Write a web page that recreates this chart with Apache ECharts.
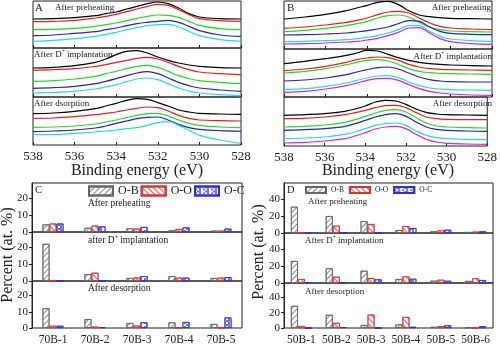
<!DOCTYPE html>
<html><head><meta charset="utf-8">
<script src="https://cdn.jsdelivr.net/npm/echarts@6/dist/echarts.min.js"></script>
<style>html,body{margin:0;padding:0;background:#fff}#c{width:500px;height:346px}</style>
</head><body><div id="c"></div>
<script>
// Binding energy sample points (eV)
const BE = [538,537,536,535,534.5,534,533.5,533,532.5,532,531.5,531,530.5,530,529,528];
// Panel A (70B samples), intensity a.u.
const A1_black = [87,88,91,97,103,108,117,125,133,138,133,120,103,93,88,87];
const A1_red   = [79,80,83,90,95,101,109,117,125,131,128,115,100,88,82,80];
const A1_green = [55,56,59,65,70,75,82,89,95,99,98,92,80,68,58,55];
const A1_blue  = [37,39,44,49,55,60,67,73,77,80,83,77,65,52,39,35];
const A1_cyan  = [20,23,28,35,41,47,55,61,67,70,71,63,50,37,25,20];
const A2_black = [87,89,94,104,114,127,137,139,132,120,110,102,96,92,88,87];
const A2_red   = [80,82,85,92,97,104,110,116,119,114,104,92,82,75,70,67];
const A2_green = [47,49,54,62,70,77,85,92,95,89,77,64,55,49,44,40];
const A2_blue  = [26,28,32,40,47,55,64,72,76,70,57,44,34,27,21,17];
const A2_cyan  = [12,14,17,24,30,37,46,54,57,52,40,27,18,12,7,4];
const A3_black = [94,96,101,109,117,125,134,139,137,127,117,105,99,95,93,92];
const A3_red   = [80,81,85,91,95,99,105,110,114,112,102,89,80,75,73,72];
const A3_green = [53,54,57,63,69,75,82,89,94,95,87,75,65,59,54,52];
const A3_blue  = [40,42,45,51,57,65,72,79,83,84,75,62,52,47,43,41];
const A3_cyan  = [32,31,35,39,42,45,49,52,59,67,70,59,44,29,15,5];
// Panel B (50B samples)
const B1_black   = [90,96,104,115,123,131,140,143,133,115,102,97,94,92,91,90];
const B1_red     = [62,66,72,80,86,93,103,111,113,108,93,78,68,63,60,58];
const B1_green   = [52,56,62,70,76,83,93,100,102,96,80,66,58,54,52,51];
const B1_blue    = [42,43,45,48,51,55,60,66,76,85,83,66,53,47,44,43];
const B1_cyan    = [22,23,25,28,31,35,40,48,58,70,70,53,38,30,25,23];
const B1_magenta = [15,16,18,21,23,27,32,40,50,63,64,48,31,22,16,14];
const B2_black   = [100,107,115,125,132,140,138,128,118,110,104,100,98,96,94,93];
const B2_red     = [79,84,92,104,112,117,120,118,110,98,90,85,83,82,81,80];
const B2_green   = [72,77,85,97,104,110,112,108,98,85,77,73,71,70,69,68];
const B2_blue    = [48,51,57,67,75,82,88,90,84,72,60,52,48,46,45,45];
const B2_cyan    = [22,25,32,42,50,57,63,64,58,45,34,27,24,22,21,20];
const B2_magenta = [14,17,24,34,42,50,55,56,50,37,25,17,12,9,6,5];
const B3_black   = [92,94,97,104,111,120,132,137,135,125,111,101,96,94,93,92];
const B3_red     = [82,83,87,94,100,107,115,121,122,115,100,87,82,80,79,79];
const B3_green   = [57,59,63,71,79,89,99,107,109,102,85,69,60,57,55,54];
const B3_blue    = [47,49,52,59,67,77,87,94,97,89,72,57,50,47,45,44];
const B3_cyan    = [22,24,27,35,42,52,62,67,69,62,45,32,25,22,20,19];
const B3_magenta = [9,11,15,22,30,40,51,57,59,52,35,20,12,8,6,5];
// Panel C (at. %)
const C_cats = ['70B-1','70B-2','70B-3','70B-4','70B-5'];
const C1_OB = [4.5,2.5,2.2,1,0.8], C1_OO = [5,3.8,2,1.8,0.8], C1_OC = [5,3.3,3,2.7,2];
const C2_OB = [22,4.1,1.8,2.9,1.8], C2_OO = [0,4.9,2.1,2,2], C2_OC = [0,0,2.9,2,2.3];
const C3_OB = [12.2,5.5,3.1,3.5,2.5], C3_OO = [1.4,0.8,1.5,0.2,0.2], C3_OC = [1.4,0.5,3.5,3.7,6.5];
// Panel D (at. %)
const D_cats = ['50B-1','50B-2','50B-3','50B-4','50B-5','50B-6'];
const D1_OB = [31,20,14,3.5,2,1.2], D1_OO = [0,8.6,10.6,8.2,3.1,1.6], D1_OC = [0,0,0,5.9,3.9,2];
const D2_OB = [26,17.3,14.5,4.7,2.7,2.4], D2_OO = [4.7,7.5,5.9,7.8,3.9,5.5], D2_OC = [0.8,1,4.3,5,2.7,3.5];
const D3_OB = [29,17.3,4,4.7,1.5,0.8], D3_OO = [2.7,6.7,17.6,14.5,2.3,0], D3_OC = [0,1.2,0,1.5,3.5,2.3];
const BE_ticks = [538,536,534,532,530,528];

const FONT = '"Liberation Serif","Times New Roman",serif';
const TXT = '#222';
const COLORS = ['#000000','#e8201c','#22dd22','#2424c8','#22dde6','#dd22dd'];

const chart = echarts.init(document.getElementById('c'), null, {renderer:'canvas'});

const grids = [
  {left:33, top:1, width:208, height:47},
  {left:33, top:48, width:208, height:49},
  {left:33, top:97, width:208, height:48},
  {left:284, top:1, width:208, height:48},
  {left:284, top:49, width:208, height:48},
  {left:284, top:97, width:208, height:49},
  {left:32, top:183, width:210, height:49},
  {left:32, top:232, width:210, height:49},
  {left:32, top:281, width:210, height:49},
  {left:284, top:183, width:209, height:50},
  {left:284, top:233, width:209, height:50},
  {left:284, top:283, width:209, height:50}
].map(g => Object.assign({show:true, borderColor:'#222', borderWidth:1, backgroundColor:'transparent'}, g));

const spec = [
  {max:141, curves:[A1_black,A1_red,A1_green,A1_blue,A1_cyan]},
  {max:147, curves:[A2_black,A2_red,A2_green,A2_blue,A2_cyan]},
  {max:144, curves:[A3_black,A3_red,A3_green,A3_blue,A3_cyan]},
  {max:144, curves:[B1_black,B1_red,B1_green,B1_blue,B1_cyan,B1_magenta]},
  {max:144, curves:[B2_black,B2_red,B2_green,B2_blue,B2_cyan,B2_magenta]},
  {max:147, curves:[B3_black,B3_red,B3_green,B3_blue,B3_cyan,B3_magenta]}
];

const xAxis = [], yAxis = [], series = [];
spec.forEach((s, i) => {
  const bottom = (i === 2 || i === 5);
  xAxis.push({type:'value', gridIndex:i, min:528, max:538, interval:2, inverse:true,
    axisLine:{show:false}, splitLine:{show:false},
    axisTick:{show:true, inside:true, length:3, lineStyle:{color:'#222'}},
    axisLabel:{show:bottom, fontFamily:FONT, fontSize:13, color:TXT, margin:5,
      formatter: v => BE_ticks.includes(v) ? String(v) : ''}});
  yAxis.push({type:'value', gridIndex:i, min:0, max:s.max, show:false});
  s.curves.forEach((c, k) => {
    series.push({type:'line', xAxisIndex:i, yAxisIndex:i, smooth:0.4, symbol:'none',
      silent:true, lineStyle:{width:1.2, color:COLORS[k]},
      data: BE.map((e, j) => [e, c[j]])});
  });
});

const decals = {
  'O-B': {symbol:'rect', symbolSize:1, dashArrayX:[1,0], dashArrayY:[0.8,2.4], rotation:-Math.PI/4, color:'#8a8a8a'},
  'O-O': {symbol:'rect', symbolSize:1, dashArrayX:[1,0], dashArrayY:[0.8,2.4], rotation:Math.PI/4, color:'#e85050'},
  'O-C': {symbol:'rect', symbolSize:1, dashArrayX:[[1.5,1.5],[0,1.5,1.5]], dashArrayY:[1.5,0], color:'#7676e4'}
};
const borders = {'O-B':'#666', 'O-O':'#e03030', 'O-C':'#3030d0'};

const bars = [
  {cats:C_cats, max:29, step:10, sets:[[C1_OB,C1_OO,C1_OC],[C2_OB,C2_OO,C2_OC],[C3_OB,C3_OO,C3_OC]]},
  {cats:D_cats, max:59, step:20, sets:[[D1_OB,D1_OO,D1_OC],[D2_OB,D2_OO,D2_OC],[D3_OB,D3_OO,D3_OC]]}
];
bars.forEach((p, pi) => {
  p.sets.forEach((set, si) => {
    const gi = 6 + pi*3 + si;
    const bottom = si === 2;
    xAxis.push({type:'category', gridIndex:gi, data:p.cats,
      axisLine:{show:false}, axisTick:{show:false},
      axisLabel:{show:bottom, interval:0, fontFamily:FONT, fontSize:11.5, color:TXT, margin:6}});
    yAxis.push({type:'value', gridIndex:gi, min:0, max:p.max, interval:p.step,
      axisLine:{show:true, lineStyle:{color:'#222'}}, splitLine:{show:false},
      axisTick:{show:true, length:3, lineStyle:{color:'#222'}},
      axisLabel:{fontFamily:FONT, fontSize:11, color:TXT, margin:4, showMaxLabel:false,
        formatter: v => (v % p.step === 0) ? String(v) : ''}});
    ['O-B','O-O','O-C'].forEach((nm, k) => {
      series.push({type:'bar', name:nm, xAxisIndex:gi, yAxisIndex:gi, data:set[k],
        barWidth:7, barGap:'0%', silent:true,
        itemStyle:{color:'#ffffff', borderColor:borders[nm], borderWidth:0.8, decal:decals[nm]}});
    });
  });
});

function label(x, y, text, size, align, extra) {
  return Object.assign({type:'text', x:x, y:y, silent:true,
    style:{text:text, fontFamily:FONT, fontSize:size, fill:TXT, align:align||'left', verticalAlign:'middle'}}, extra||{});
}
function dplus(x, y, pre, post, size, align) {
  return {type:'text', x:x, y:y, silent:true, style:{
    text:'{n|' + pre + '}{s|+}{n|' + post + '}', fontFamily:FONT, fill:TXT, align:align||'left', verticalAlign:'middle',
    rich:{n:{fontFamily:FONT, fontSize:size, fill:TXT, lineHeight:size+2},
          s:{fontFamily:FONT, fontSize:size*0.6, fill:TXT, verticalAlign:'top', lineHeight:size+2}}}};
}

const graphic = [
  label(35, 8, 'A', 11), label(55, 8, 'After preheating', 9),
  dplus(34, 55, 'After D', ' implantation', 9), label(34, 104, 'After dsorption', 9),
  label(287, 8, 'B', 11), label(491, 8, 'After preheating', 9, 'right'),
  dplus(492, 57, 'After D', ' implantation', 9, 'right'), label(492, 104, 'After desorption', 9, 'right'),
  label(137, 171, 'Binding energy (eV)', 16, 'center'),
  label(388, 171, 'Binding energy (eV)', 16, 'center'),
  label(35, 190, 'C', 10.5), label(88, 203, 'After preheating', 9.5),
  dplus(88, 240, 'after D', ' implantation', 9.5), label(88, 288, 'After desorption', 9.5),
  label(287, 190, 'D', 10.5), label(308, 202, 'After preheating', 9),
  dplus(305, 241, 'After D', ' implantation', 9), label(305, 292, 'After desorption', 9),
  label(8, 255, 'Percent (at. %)', 16, 'center', {rotation:Math.PI/2}),
  label(259, 252, 'Percent (at. %)', 16, 'center', {rotation:Math.PI/2})
];

chart.setOption({
  animation:false,
  grid:grids, xAxis:xAxis, yAxis:yAxis, series:series, graphic:graphic,
  legend:[
    {left:88, top:185, padding:0, itemWidth:24, itemHeight:9, itemGap:2, icon:'rect',
     data:['O-B','O-O','O-C'], selectedMode:false, textStyle:{fontFamily:FONT, fontSize:12, color:TXT}},
    {left:305, top:186, padding:0, itemWidth:20, itemHeight:6, itemGap:5, icon:'rect',
     data:['O-B','O-O','O-C'], selectedMode:false, textStyle:{fontFamily:FONT, fontSize:7.5, color:TXT}}
  ]
});
</script></body></html>
